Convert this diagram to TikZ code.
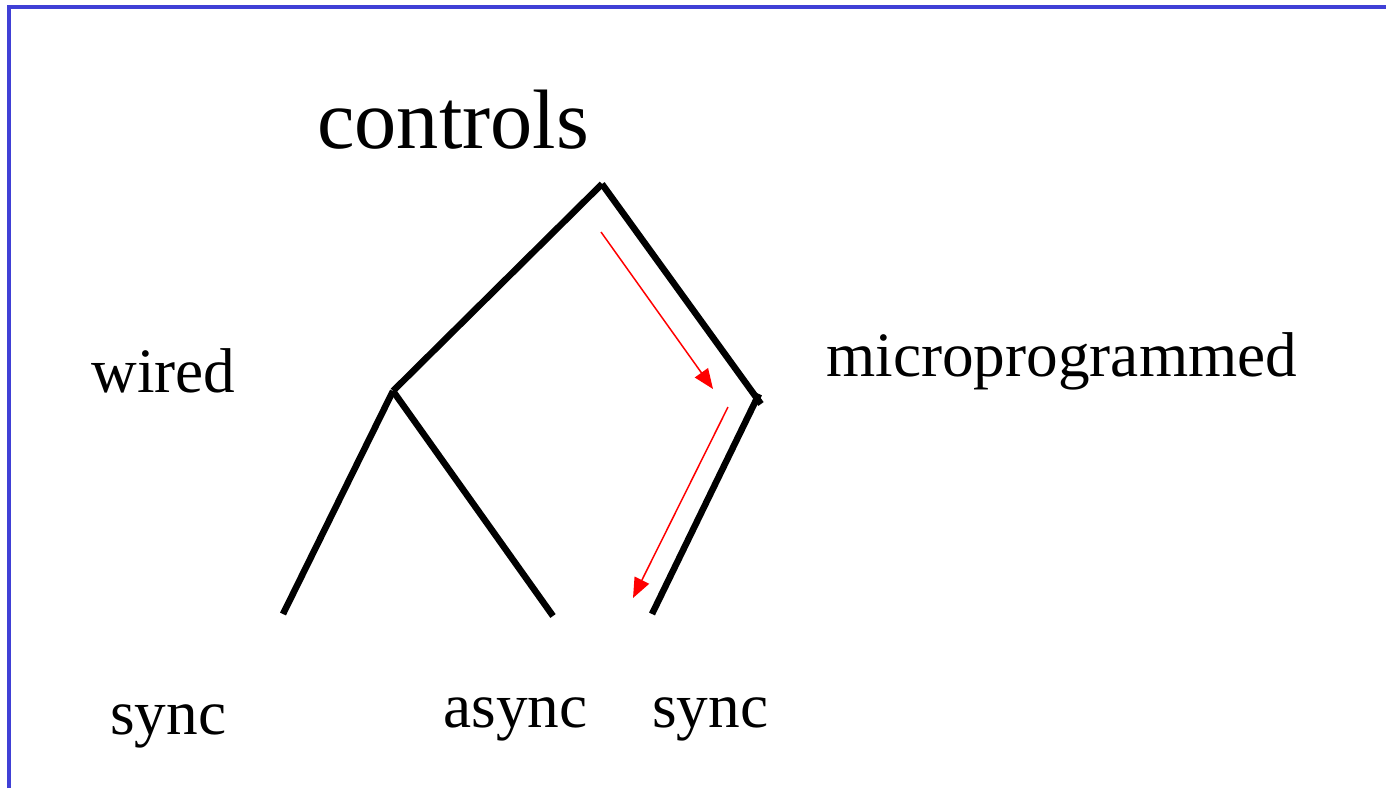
\documentclass[tikz,border=0pt]{standalone}
\usepackage{fontspec}
\setmainfont{Liberation Serif}
\usetikzlibrary{arrows.meta}
\definecolor{frameblue}{RGB}{64,64,214}
\tikzset{
  branch/.style={line width=0.13cm},
  trace/.style={red,line width=0.85pt,-{Triangle[length=0.4cm,width=0.32cm]}},
  lbl/.style={anchor=base west,inner sep=0pt,font=\fontsize{36}{40}\selectfont}
}
\begin{document}
\begin{tikzpicture}[x=0.02cm,y=-0.02cm]
\useasboundingbox (0,0) rectangle (1386,788);
\draw[frameblue,line width=2pt] (9,788) -- (9,7) -- (1386,7);

\coordinate (root) at (602,184);
\coordinate (wnode) at (393,391);
\coordinate (mnode) at (758,399);
\coordinate (wsync) at (283,614);
\coordinate (wasync) at (553,616);
\coordinate (msync) at (652,614);

\draw[branch] (root) -- (wnode);
\draw[branch] (root) -- ([shift={(3,5)}]mnode);
\draw[branch] (wnode) -- (wsync);
\draw[branch] (wnode) -- (wasync);
\draw[branch] ([shift={(1,-5)}]mnode) -- (msync);

\coordinate (a1) at (601,232);
\coordinate (a2) at (713,389);
\coordinate (b1) at (728,407);
\coordinate (b2) at (633,598);
\draw[trace] (a1) -- (a2);
\draw[trace] (b1) -- (b2);

\node[lbl,font=\fontsize{48}{54}\selectfont] (controls) at (317,148) {controls};
\node[lbl] (wired) at (91,392) {wired};
\node[lbl] (micro) at (826,376) {microprogrammed};
\node[lbl] (sync1) at (110,734) {sync};
\node[lbl] (async) at (443,727) {async};
\node[lbl] (sync2) at (652,727) {sync};
\end{tikzpicture}
\end{document}
